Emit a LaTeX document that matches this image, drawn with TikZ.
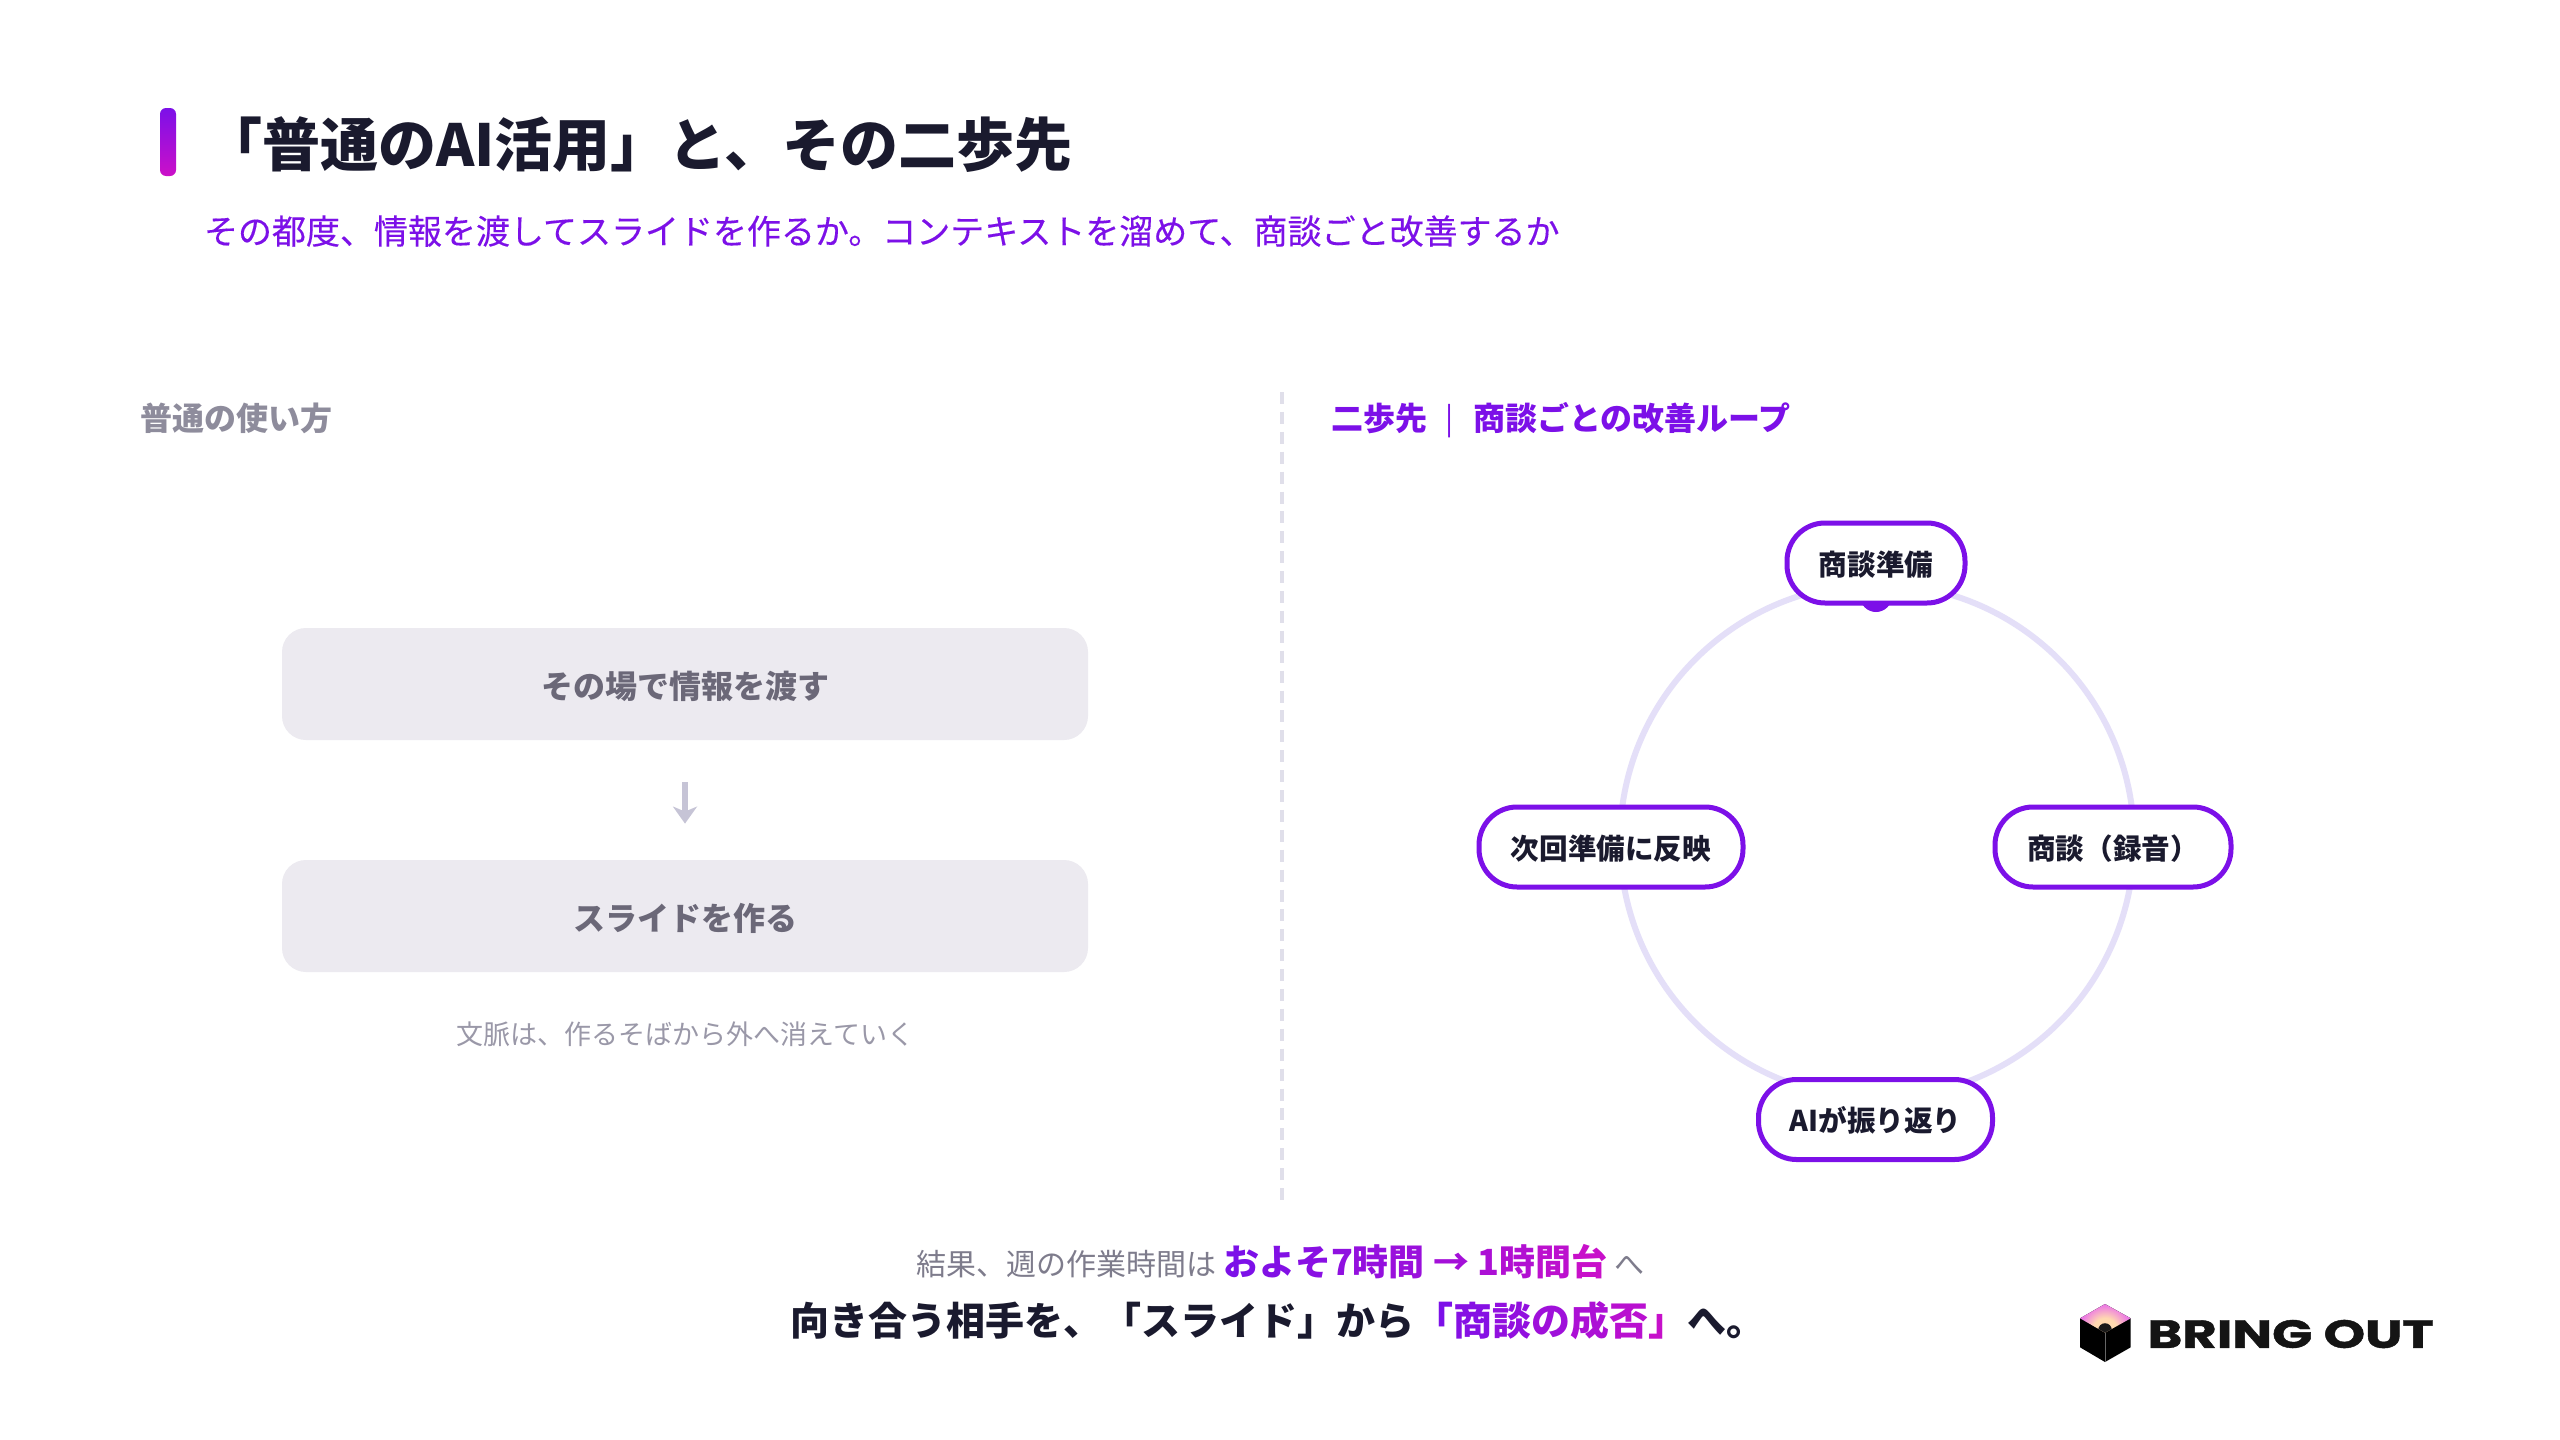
\documentclass[tikz,border=0pt]{standalone}
\usepackage{fontspec}
\usepackage{graphicx}
\setmainfont{Noto Sans CJK JP}
\newfontfamily\medf[FakeBold=0.25]{Noto Sans CJK JP}
\newfontfamily\logofont[BoldFeatures={FakeBold=1}]{Poppins}
\usetikzlibrary{arrows.meta}
\definecolor{inkc}{HTML}{1A1A2E}
\definecolor{purp}{HTML}{7C10E8}
\definecolor{mage}{HTML}{CC10C8}
\definecolor{cardc}{HTML}{ECEAF0}
\definecolor{cardt}{HTML}{6B6878}
\definecolor{labelg}{HTML}{8E8C9C}
\definecolor{capg}{HTML}{9A98A8}
\definecolor{arrowg}{HTML}{C6C4D6}
\definecolor{ringc}{HTML}{E4DFF8}
\definecolor{dashc}{HTML}{E0DFEA}
\definecolor{grayt}{HTML}{7E7C8C}
\definecolor{glowa}{HTML}{FFD9B0}
\definecolor{glowb}{HTML}{EE80E0}
\definecolor{glowc}{HTML}{C050F0}
\definecolor{glowd}{HTML}{9030EA}
\newcommand{\fpx}[1]{\fontsize{\dimexpr#1pt/2\relax}{\dimexpr#1pt/2\relax}\selectfont}
\newcommand{\gc}[2]{\textcolor{mage!#1!purp}{#2}}
\newcommand{\pilltext}[1]{\smash{\raisebox{-6.2pt}{#1}}}
\pgfdeclareradialshading{logoglow}{\pgfpoint{0bp}{0bp}}{color(0bp)=(glowa); color(10bp)=(glowa); color(20bp)=(glowb); color(32bp)=(glowc); color(50bp)=(glowd)}
\tikzset{
  x=0.5pt,y=-0.5pt,
  txt/.style={inner sep=0pt,outer sep=0pt,anchor=base},
  txtw/.style={inner sep=0pt,outer sep=0pt,anchor=base west},
  cardbox/.style={fill=cardc,draw=none,rounded corners=12pt,minimum width=403pt,minimum height=56pt,inner sep=0pt},
  pill/.style={fill=white,draw=purp,line width=2.5pt,rounded corners=19pt,minimum height=40pt,inner sep=0pt,font=\fontsize{14.3pt}{14.3pt}\selectfont\bfseries,text=inkc},
}
\begin{document}
\begin{tikzpicture}
\useasboundingbox (0,0) rectangle (2560,1440);
\fill[white] (0,0) rectangle (2560,1440);
% accent bar
\shade[top color=purp,bottom color=mage,rounded corners=3pt] (160,108) rectangle (176,176);
% header
\node[txtw,text=inkc,font=\fpx{58}\bfseries] (title) at (204,166) {「普通のAI活用」と、その二歩先};
\node[txtw,text=purp,font=\fpx{34}\medf] (subtitle) at (204,244) {その都度、情報を渡してスライドを作るか。コンテキストを溜めて、商談ごと改善するか};
% section labels
\node[txtw,text=labelg,font=\fpx{32}\bfseries] (leftlabel) at (140,430) {普通の使い方};
\node[txtw,text=purp,font=\fpx{32}\bfseries] (rightlabel) at (1331,430) {二歩先};
\node[txtw,text=purp,font=\fpx{30}] (rightsep) at (1445,429) {|};
\node[txtw,text=purp,font=\fpx{32}\bfseries] (rightlabelb) at (1473,430) {商談ごとの改善ループ};
% divider
\coordinate (divtop) at (1282,392);
\coordinate (divbot) at (1282,1200);
\draw[dashc,line width=2pt,dash pattern=on 6pt off 3.95pt] (divtop) -- (divbot);
% left flow
\node[cardbox] (card1) at (685,684) {};
\node[txt,text=cardt,font=\fpx{32}\bfseries] (card1t) at (685,698) {その場で情報を渡す};
\node[cardbox] (card2) at (685,916) {};
\node[txt,text=cardt,font=\fpx{32}\bfseries] (card2t) at (685,930) {スライドを作る};
\draw[arrowg,line width=2.8pt,shorten <=21pt,shorten >=18pt,-{Stealth[length=8.5pt,width=12pt,inset=2.5pt]}] (card1) -- (card2);
\node[txt,text=capg,font=\fpx{27}] (caption) at (685.5,1044) {文脈は、作るそばから外へ消えていく};
% loop
\draw[ringc,line width=3pt] (1877,841) circle [radius=128.5pt];
\fill[purp] (1876,596) circle [radius=8pt];
\node[pill,minimum width=89pt] (p1) at (1876,563) {\pilltext{商談準備}};
\node[pill,minimum width=118pt] (p2) at (2113,847) {\pilltext{商談（録音）}};
\node[pill,minimum width=117pt] (p3) at (1875.5,1119.5) {\pilltext{AIが振り返り}};
\node[pill,minimum width=132pt] (p4) at (1611,847) {\pilltext{次回準備に反映}};
% bottom
\node[txtw,font=\fpx{30},text=grayt] (res1) at (916.5,1275) {結果、週の作業時間は};
\node[txtw,font=\fpx{36}\bfseries] (res2) at (1223,1275) {\gc{0}{お}\gc{8}{よ}\gc{16}{そ}\gc{24}{7}\gc{30}{時}\gc{38}{間} \gc{50}{→} \gc{60}{1}\gc{68}{時}\gc{80}{間}\gc{95}{台}};
\node[txtw,font=\fpx{30},text=grayt] (res3) at (1614,1275) {へ};
\node[txtw,font=\fpx{39}\bfseries,text=inkc] (punch) at (790,1335) {向き合う相手を、「スライド」から\gc{0}{「}\gc{12}{商}\gc{28}{談}\gc{44}{の}\gc{60}{成}\gc{76}{否}\gc{92}{」}へ。};
% logo
\fill[black] (2105,1304) -- (2130.7,1318.3) -- (2130.7,1347.3) -- (2105,1362) -- (2080,1347.3) -- (2080,1318.3) -- cycle;
\begin{scope}
\clip (2105,1304) -- (2130.7,1318.3) -- (2105,1332.7) -- (2080,1318.3) -- cycle;
\shade[shading=logoglow] (2105,1330) circle [radius=15pt];
\fill[black!90] (2105,1330) circle [radius=3.4pt];
\end{scope}
\draw[black!60,line width=0.3pt] (2105,1332.7) -- (2105,1362);
\node[inner sep=0pt,outer sep=0pt,anchor=west,text=black!92] (logotext) at (2147.5,1334) {\resizebox{143pt}{14pt}{\logofont\bfseries BRING OUT}};
\end{tikzpicture}
\end{document}
